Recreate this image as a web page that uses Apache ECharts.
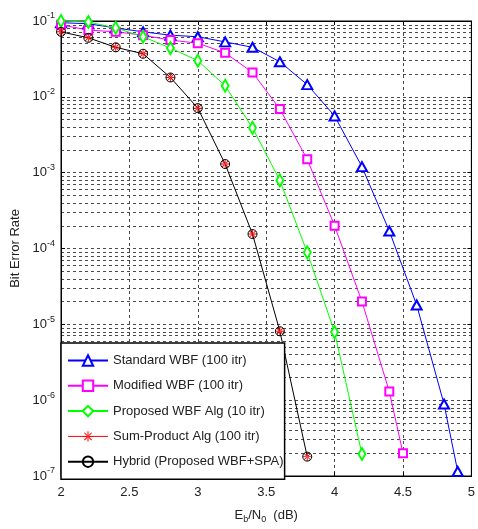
<!DOCTYPE html>
<html>
<head>
<meta charset="utf-8">
<script src="https://cdn.jsdelivr.net/npm/echarts@6/dist/echarts.min.js"></script>
<style>
  html, body { margin: 0; padding: 0; background: #fff; }
  #main { width: 478px; height: 529px; }
</style>
</head>
<body>
<div id="main"></div>
<script>
// Eb/N0 points (dB) for each curve
var xStandard = [2.0, 2.2, 2.4, 2.6, 2.8, 3.0, 3.2, 3.4, 3.6, 3.8, 4.0, 4.2, 4.4, 4.6, 4.8, 4.9];
var xModified = [2.0, 2.2, 2.4, 2.6, 2.8, 3.0, 3.2, 3.4, 3.6, 3.8, 4.0, 4.2, 4.4, 4.5];
var xProposed = [2.0, 2.2, 2.4, 2.6, 2.8, 3.0, 3.2, 3.4, 3.6, 3.8, 4.0, 4.2];
var xHybrid   = [2.0, 2.2, 2.4, 2.6, 2.8, 3.0, 3.2, 3.4, 3.6, 3.8];

// bit error rates
var berStandard = [0.095, 0.092, 0.081, 0.072, 0.065, 0.062, 0.053, 0.045, 0.029, 0.0145, 0.0056, 0.0012, 1.7e-4, 1.8e-5, 8.9e-7, 1.15e-7];
var berModified = [0.089, 0.076, 0.072, 0.065, 0.056, 0.051, 0.038, 0.021, 0.0069, 0.0015, 2.0e-4, 2.0e-5, 1.3e-6, 2.0e-7];
var berProposed = [0.1, 0.097, 0.081, 0.062, 0.044, 0.030, 0.014, 0.0039, 7.9e-4, 8.9e-5, 7.9e-6, 1.95e-7];
var berSumProduct = [0.072, 0.060, 0.045, 0.037, 0.018, 0.0071, 0.0013, 1.55e-4, 8.1e-6, 1.8e-7];
var berHybrid     = [0.072, 0.060, 0.045, 0.037, 0.018, 0.0071, 0.0013, 1.55e-4, 8.1e-6, 1.8e-7];

var seriesNames = ['Standard WBF (100 itr)', 'Modified WBF (100 itr)', 'Proposed WBF Alg (10 itr)',
    'Sum-Product Alg (100 itr)', 'Hybrid (Proposed WBF+SPA)'];

// minor grid of the log axis (2..9 x 10^e), as exponents for the helper axis
var minorGrid = [];
for (var e = -7; e <= -2; e++) {
    for (var k = 2; k <= 9; k++) {
        minorGrid.push(e + Math.log(k) / Math.LN10);
    }
}

var fontFamily = 'Liberation Sans, Arial, sans-serif';
var gridDash = { color: '#4a4a4a', width: 1, type: [3, 3] };
var asterisk = 'path://M-1,-10L1,-10L1,10L-1,10Z M-10,-1L10,-1L10,1L-10,1Z M-7.7,-6.3L6.3,7.7L7.7,6.3L-6.3,-7.7Z M-7.7,6.3L-6.3,7.7L7.7,-6.3L6.3,-7.7Z';

function pairs(xs, ys) {
    return xs.map(function (x, i) { return [x, ys[i]]; });
}

var chart = echarts.init(document.getElementById('main'));

var axisCommon = {
    axisLine: { show: true, lineStyle: { color: '#000' } },
    axisTick: { inside: true, length: 4, lineStyle: { color: '#000' } }
};
var xBase = Object.assign({ type: 'value', min: 2, max: 5, interval: 0.5 }, axisCommon);

chart.setOption({
    animation: false,
    backgroundColor: '#fff',
    textStyle: { fontFamily: fontFamily },
    grid: {
        left: 61, right: 3, top: 21, bottom: 53,
        show: true, borderColor: '#000', borderWidth: 1
    },
    legend: {
        orient: 'vertical',
        left: 61, top: 343,
        z: 50,
        data: [
            { name: seriesNames[0] },
            { name: seriesNames[1] },
            { name: seriesNames[2] },
            { name: seriesNames[3], lineStyle: { color: '#ff0000', opacity: 1, width: 1 } },
            { name: seriesNames[4] }
        ],
        backgroundColor: '#fff',
        borderColor: '#000',
        borderWidth: 1.5,
        borderRadius: 0,
        padding: [11, 1, 11, 6],
        itemWidth: 40,
        itemHeight: 13,
        itemGap: 12.3,
        textStyle: { fontSize: 13, color: '#222', fontFamily: fontFamily }
    },
    xAxis: [
        Object.assign({}, xBase, {
            position: 'bottom',
            name: '{n|E}{sub|b}{n|/N}{sub|0}{n|  (dB)}',
            nameLocation: 'middle',
            nameGap: 31,
            nameTextStyle: {
                rich: {
                    n: { fontSize: 13, color: '#222', fontFamily: fontFamily },
                    sub: { fontSize: 9, color: '#222', fontFamily: fontFamily, padding: [8, 0, 0, 0] }
                }
            },
            axisLabel: { fontSize: 13, color: '#222', margin: 10 },
            splitLine: { show: true, lineStyle: gridDash }
        }),
        Object.assign({}, xBase, {
            position: 'top',
            axisLabel: { show: false },
            splitLine: { show: false }
        })
    ],
    yAxis: [
        Object.assign({
            type: 'log',
            logBase: 10,
            min: 1e-7, max: 1e-1, interval: 1,
            position: 'left',
            name: 'Bit Error Rate',
            nameLocation: 'middle',
            nameGap: 28,
            nameTextStyle: { fontSize: 13, color: '#222' },
            axisLabel: {
                margin: 6,
                formatter: function (v) {
                    var p = Math.round(Math.log(v) / Math.LN10);
                    return '{b|10}{s|' + p + '}';
                },
                rich: {
                    b: { fontSize: 13, color: '#222', fontFamily: fontFamily },
                    s: { fontSize: 9, color: '#222', fontFamily: fontFamily, padding: [0, 0, 10, 0] }
                }
            },
            splitLine: { show: true, lineStyle: gridDash }
        }, axisCommon),
        // exponent axis on the right: same scale in log10 units, carries the minor grid
        Object.assign({
            type: 'value',
            min: -7, max: -1, interval: 1,
            position: 'right',
            axisLabel: { show: false },
            splitLine: { show: false }
        }, axisCommon)
    ],
    series: [
        {
            name: 'minor-grid',
            type: 'line',
            yAxisIndex: 1,
            z: 0,
            data: [],
            silent: true,
            markLine: {
                silent: true,
                z: 0,
                symbol: ['none', 'none'],
                label: { show: false },
                lineStyle: gridDash,
                emphasis: { disabled: true },
                data: minorGrid.map(function (v) { return { yAxis: v }; })
            }
        },
        {
            name: seriesNames[0],
            type: 'line',
            data: pairs(xStandard, berStandard),
            symbol: 'emptyTriangle',
            symbolSize: [10, 9],
            lineStyle: { color: '#0000ff', width: 1 },
            itemStyle: { color: '#0000ff', borderWidth: 1 }
        },
        {
            name: seriesNames[1],
            type: 'line',
            data: pairs(xModified, berModified),
            symbol: 'emptyRect',
            symbolSize: 8,
            lineStyle: { color: '#ff00ff', width: 1 },
            itemStyle: { color: '#ff00ff', borderWidth: 1 }
        },
        {
            name: seriesNames[2],
            type: 'line',
            data: pairs(xProposed, berProposed),
            symbol: 'emptyDiamond',
            symbolSize: [7, 12],
            lineStyle: { color: '#00ff00', width: 1 },
            itemStyle: { color: '#00ff00', borderWidth: 1 }
        },
        {
            name: seriesNames[3],
            type: 'line',
            data: pairs(xHybrid, berSumProduct),
            symbol: asterisk,
            symbolSize: 9,
            lineStyle: { color: '#ff0000', width: 1, opacity: 0 },
            itemStyle: { color: '#ff0000' }
        },
        {
            name: seriesNames[4],
            type: 'line',
            data: pairs(xHybrid, berHybrid),
            symbol: 'circle',
            symbolSize: 9,
            lineStyle: { color: '#000', width: 1 },
            itemStyle: { color: 'transparent', borderColor: '#000', borderWidth: 1 }
        }
    ]
});
</script>
</body>
</html>
